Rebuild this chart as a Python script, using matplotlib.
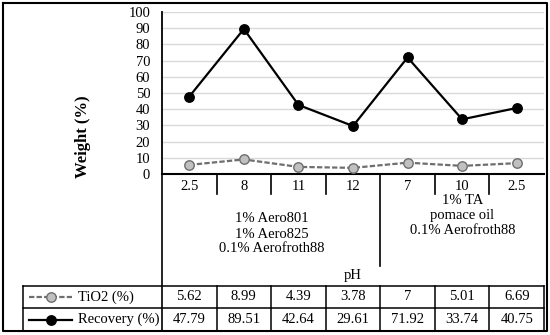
import matplotlib
matplotlib.use("Agg")
import matplotlib.pyplot as plt
from matplotlib.lines import Line2D
import matplotlib.transforms as mtransforms

plt.rcParams['font.family'] = ['Liberation Serif', 'DejaVu Serif']

ph_labels = ["2.5", "8", "11", "12", "7", "10", "2.5"]
tio2 = [5.62, 8.99, 4.39, 3.78, 7, 5.01, 6.69]
recovery = [47.79, 89.51, 42.64, 29.61, 71.92, 33.74, 40.75]
tio2_text = ["5.62", "8.99", "4.39", "3.78", "7", "5.01", "6.69"]
recovery_text = ["47.79", "89.51", "42.64", "29.61", "71.92", "33.74", "40.75"]
group1 = "1% Aero801\n1% Aero825\n0.1% Aerofroth88"
group2 = "1% TA\npomace oil\n0.1% Aerofroth88"
series_names = ["TiO2 (%)", "Recovery (%)"]

W, H = 550, 335
fig = plt.figure(figsize=(W / 100, H / 100), dpi=100)

def fx(x):
    return x / W

def fy(y):
    return 1 - y / H

FS = 10.5
L, R, T, B = 162, 544, 12, 174
ax = fig.add_axes([fx(L), fy(B), (R - L) / W, (B - T) / H])
n = len(ph_labels)
x = list(range(n))

ax.plot(x, recovery, color="black", lw=1.6, marker="o", ms=6.8,
        mfc="black", mec="black", zorder=4)
ax.plot(x, tio2, color="#6e6e6e", lw=1.6, linestyle=(0, (2.4, 1.0)),
        marker="o", ms=6.8, mfc="#c0c0c0", mec="#6e6e6e", mew=1.0, zorder=4)

ax.set_xlim(-0.5, n - 0.5)
ax.set_ylim(0, 100)
ax.set_yticks(range(0, 101, 10))
ax.yaxis.grid(True, color="#d9d9d9", lw=1.0)
ax.set_axisbelow(True)
for s in ["top", "right"]:
    ax.spines[s].set_visible(False)
ax.spines["left"].set_linewidth(1.3)
ax.spines["bottom"].set_linewidth(1.5)
ax.tick_params(axis="y", length=0, pad=8.5, labelsize=FS)
ax.set_xticks(x, ph_labels)
ax.tick_params(axis="x", length=0, pad=4, labelsize=FS)

# category separators
trans = mtransforms.blended_transform_factory(ax.transData, ax.transAxes)
for i in range(n - 1):
    xb = i + 0.5
    ybot = -(266 - B) / (B - T) if i == 3 else -(194 - B) / (B - T)
    ax.add_line(Line2D([xb, xb], [0, ybot], transform=trans, color="black",
                       lw=1.2, clip_on=False))

# group labels
fig.text(fx((L + 381) / 2), fy(234), group1, ha="center", va="center",
         fontsize=FS, linespacing=1.2)
fig.text(fx((381 + R) / 2), fy(216), group2, ha="center", va="center",
         fontsize=FS, linespacing=1.2)
fig.text(fx((L + R) / 2), fy(275), "pH", ha="center", va="center", fontsize=FS)

fig.text(fx(83), fy(137), "Weight (%)", rotation=90, ha="center", va="center",
         fontsize=12, fontweight="bold")

def fline(xs, ys, lw=1.0, color="black"):
    fig.add_artist(Line2D([fx(v) for v in xs], [fy(v) for v in ys],
                          transform=fig.transFigure, color=color, lw=lw))

# frame pieces
fline([L, L], [B, 331], lw=1.2)
fline([3, 546.5, 546.5, 3, 3], [2.5, 2.5, 331, 331, 2.5], lw=1.5)

# data table
tl, tr = 23, R
rows_y = [286, 308, 331]
for yv in rows_y:
    fline([tl, tr], [yv, yv], lw=1.1)
fline([tl, tl], [286, 331], lw=1.1)
fline([tr, tr], [286, 331], lw=1.1)
colw = (R - L) / n
for i in range(1, n):
    xv = L + i * colw
    fline([xv, xv], [286, 331], lw=1.1)

for r, (vals, name) in enumerate(zip([tio2_text, recovery_text], series_names)):
    yc = (rows_y[r] + rows_y[r + 1]) / 2
    for i, v in enumerate(vals):
        fig.text(fx(L + (i + 0.5) * colw), fy(yc), v, ha="center", va="center",
                 fontsize=FS)
    fig.text(fx(78), fy(yc), name, ha="left", va="center", fontsize=FS)

# legend keys
yc0 = (rows_y[0] + rows_y[1]) / 2
yc1 = (rows_y[1] + rows_y[2]) / 2
fig.add_artist(Line2D([fx(29), fx(72)], [fy(yc0), fy(yc0)], transform=fig.transFigure,
                      color="#6e6e6e", lw=1.6, linestyle=(0, (2.4, 1.0))))
fig.add_artist(Line2D([fx(50.5)], [fy(yc0)], transform=fig.transFigure, marker="o",
                      ms=6.8, mfc="#c0c0c0", mec="#6e6e6e", mew=1.0, lw=0))
fig.add_artist(Line2D([fx(29), fx(72)], [fy(yc1), fy(yc1)], transform=fig.transFigure,
                      color="black", lw=1.6))
fig.add_artist(Line2D([fx(50.5)], [fy(yc1)], transform=fig.transFigure, marker="o",
                      ms=6.8, mfc="black", mec="black", lw=0))

fig.savefig("out.png", dpi=100)
